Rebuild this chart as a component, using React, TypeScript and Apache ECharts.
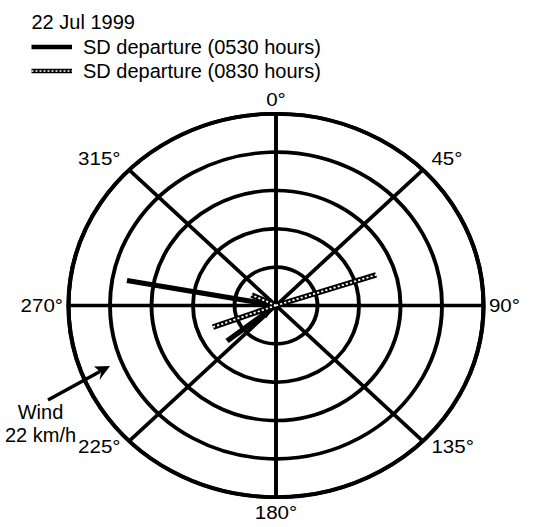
import React, { useEffect, useRef } from "react";
import * as echarts from "echarts";

const TITLE = "22 Jul 1999";
const SERIES_NAMES = ["SD departure (0530 hours)", "SD departure (0830 hours)"];
const ANGLE_TICKS = [0, 45, 90, 135, 180, 225, 270, 315];
const RADIUS_MAX = 5;

// 0530 departure vectors (bearing in degrees, radius in ring units)
const bearings0530 = [280.3, 231.8];
const starts0530 = [0, 0.22];
const ends0530 = [3.65, 1.5];

// 0830 departure vectors
const bearings0830 = [71.7, 249.7, 295];
const ends0830 = [2.54, 1.62, 0.65];

const WIND_LABEL = ["Wind", "22 km/h"];

const FONT = "'Liberation Sans', Arial, Helvetica, sans-serif";
const CX = 276;
const CY = 305.5;
const RY = 191.7;
const SX = 1.0825;

const labelStyleKey = (v: number) => {
  if (v === 0 || v === 90 || v === 180 || v === 270) return "c";
  if (v === 45) return "tr";
  if (v === 315) return "tl";
  if (v === 135) return "br";
  return "bl";
};

export default function App() {
  const polarRef = useRef<HTMLDivElement>(null);
  const overRef = useRef<HTMLDivElement>(null);

  useEffect(() => {
    const polar = echarts.init(polarRef.current!, null, { renderer: "svg" });
    const over = echarts.init(overRef.current!, null, { renderer: "svg" });

    const series: any[] = [];
    bearings0530.forEach((b, i) => {
      const data: any[] = [[ends0530[i], b]];
      if (starts0530[i] > 0) {
        data.push({
          value: [starts0530[i], b],
          symbol: "triangle",
          symbolSize: [9, 13],
          symbolRotate: 180 - b,
          itemStyle: { color: "#000" },
        });
      } else {
        data.push([starts0530[i], b]);
      }
      series.push({
        name: SERIES_NAMES[0],
        type: "line",
        coordinateSystem: "polar",
        symbol: "none",
        showSymbol: true,
        data,
        lineStyle: { color: "#000", width: 5, cap: "butt" },
        z: 5,
      });
    });
    bearings0830.forEach((b, i) => {
      const data = [
        [0, b],
        [ends0830[i], b],
      ];
      series.push({
        name: SERIES_NAMES[1],
        type: "line",
        coordinateSystem: "polar",
        symbol: "none",
        data,
        lineStyle: { color: "#000", width: 5.5, cap: "butt" },
        z: 6,
      });
      series.push({
        name: SERIES_NAMES[1] + " pattern",
        type: "line",
        coordinateSystem: "polar",
        symbol: "none",
        data,
        lineStyle: { color: "#fff", width: 1.8, type: [2, 2], cap: "butt" },
        z: 7,
      });
    });

    polar.setOption({
      animation: false,
      backgroundColor: "transparent",
      polar: { center: [CX, CY], radius: RY },
      angleAxis: {
        type: "value",
        min: 0,
        max: 360,
        interval: 45,
        startAngle: 90,
        clockwise: true,
        axisLine: { show: true, lineStyle: { color: "#000", width: 3.8 } },
        axisTick: { show: false },
        splitLine: { show: true, lineStyle: { color: "#000", width: 3.6 } },
        axisLabel: {
          show: true,
          margin: 5,
          color: "#000",
          fontSize: 19,
          fontFamily: FONT,
          formatter: (v: number) =>
            ANGLE_TICKS.includes(v) ? `{${labelStyleKey(v)}|${v}°}` : "",
          rich: {
            c: { fontSize: 19, fontFamily: FONT, color: "#000", lineHeight: 20 },
            tr: { fontSize: 19, fontFamily: FONT, color: "#000", lineHeight: 16, padding: [0, 0, 0, 4.5] },
            tl: { fontSize: 19, fontFamily: FONT, color: "#000", lineHeight: 16, padding: [0, 4.5, 0, 0] },
            br: { fontSize: 19, fontFamily: FONT, color: "#000", lineHeight: 4, padding: [0, 0, 0, 4.5] },
            bl: { fontSize: 19, fontFamily: FONT, color: "#000", lineHeight: 4, padding: [0, 4.5, 0, 0] },
          },
        },
      },
      radiusAxis: {
        type: "value",
        min: 0,
        max: RADIUS_MAX,
        interval: 1,
        axisLine: { show: false },
        axisTick: { show: false },
        axisLabel: { show: false },
        splitLine: { show: true, lineStyle: { color: "#000", width: 3.6 } },
      },
      series,
    });

    const hatchY = 71;
    const solidY = 47;
    over.setOption({
      animation: false,
      graphic: [
        {
          type: "text",
          x: 31.5,
          y: 21.5,
          style: { text: TITLE, fill: "#000", font: `20px ${FONT}`, textVerticalAlign: "middle" },
        },
        {
          type: "line",
          shape: { x1: 31.5, y1: solidY, x2: 72, y2: solidY },
          style: { stroke: "#000", lineWidth: 4.5 },
        },
        {
          type: "text",
          x: 83,
          y: solidY,
          style: { text: SERIES_NAMES[0], fill: "#000", font: `20px ${FONT}`, textVerticalAlign: "middle" },
        },
        {
          type: "line",
          shape: { x1: 31.5, y1: hatchY, x2: 72, y2: hatchY },
          style: { stroke: "#000", lineWidth: 4.5 },
        },
        {
          type: "line",
          shape: { x1: 31.5, y1: hatchY, x2: 72, y2: hatchY },
          style: { stroke: "#fff", lineWidth: 1.5, lineDash: [2, 2] },
        },
        {
          type: "text",
          x: 83,
          y: hatchY,
          style: { text: SERIES_NAMES[1], fill: "#000", font: `20px ${FONT}`, textVerticalAlign: "middle" },
        },
        {
          type: "text",
          x: 40.5,
          y: 412,
          style: { text: WIND_LABEL[0], fill: "#000", font: `20px ${FONT}`, textAlign: "center", textVerticalAlign: "middle" },
        },
        {
          type: "text",
          x: 40.5,
          y: 435,
          style: { text: WIND_LABEL[1], fill: "#000", font: `20px ${FONT}`, textAlign: "center", textVerticalAlign: "middle" },
        },
        {
          type: "line",
          shape: { x1: 48, y1: 400, x2: 100, y2: 371.5 },
          style: { stroke: "#000", lineWidth: 3.5 },
        },
        {
          type: "polygon",
          shape: {
            points: [
              [110, 366],
              [99.5, 380],
              [101, 372.5],
              [94, 366.5],
            ],
          },
          style: { fill: "#000" },
        },
      ],
    });

    return () => {
      polar.dispose();
      over.dispose();
    };
  }, []);

  return (
    <div
      style={{
        position: "fixed",
        left: 0,
        top: 0,
        width: 537,
        height: 527,
        overflow: "hidden",
        background: "#fff",
      }}
    >
      <div
        ref={polarRef}
        style={{
          position: "absolute",
          left: 0,
          top: 0,
          width: 537,
          height: 527,
          transform: `scaleX(${SX})`,
          transformOrigin: `${CX}px ${CY}px`,
        }}
      />
      <div
        ref={overRef}
        style={{ position: "absolute", left: 0, top: 0, width: 537, height: 527, pointerEvents: "none" }}
      />
    </div>
  );
}
